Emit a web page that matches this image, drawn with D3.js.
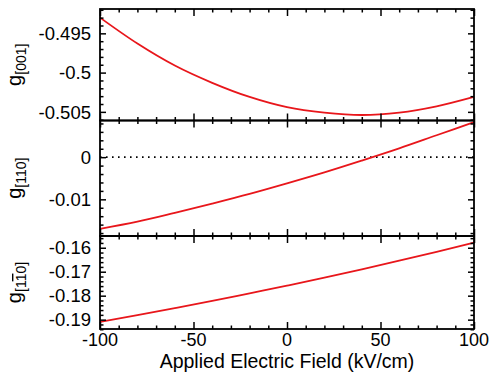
<!DOCTYPE html>
<html>
<head>
<meta charset="utf-8">
<script src="https://cdn.jsdelivr.net/npm/d3@7"></script>
<style>
  html, body { margin: 0; padding: 0; background: #fff; }
  svg { display: block; font-family: "Liberation Sans", Arial, Helvetica, sans-serif; }
</style>
</head>
<body>
<svg id="chart" width="495" height="377"></svg>
<script>
// ---- data ----
const fieldValues = [-100, -80, -60, -40, -20, 0, 20, 40, 60, 80, 100];
const g001 = [-0.4930, -0.4963, -0.4991, -0.5013, -0.5031, -0.5044, -0.5051, -0.5054, -0.5051, -0.5043, -0.5031];
const g110 = [-0.0170, -0.0153, -0.0132, -0.0110, -0.0087, -0.0062, -0.0036, -0.0008, 0.0021, 0.0052, 0.0083];
const g1m10 = [-0.1909, -0.1881, -0.1852, -0.1822, -0.1790, -0.1758, -0.1725, -0.1690, -0.1654, -0.1617, -0.1579];

const xTicks = [-100, -50, 0, 50, 100];
const xTickLabels = ["-100", "-50", "0", "50", "100"];
const xMinorTicks = [-90, -80, -70, -60, -40, -30, -20, -10, 10, 20, 30, 40, 60, 70, 80, 90];

const p1Ticks = [-0.495, -0.5, -0.505];
const p1TickLabels = ["-0.495", "-0.5", "-0.505"];
const p2Ticks = [0, -0.01];
const p2TickLabels = ["0", "-0.01"];
const p3Ticks = [-0.16, -0.17, -0.18, -0.19];
const p3TickLabels = ["-0.16", "-0.17", "-0.18", "-0.19"];

const p1Minor = [-0.506, -0.504, -0.503, -0.502, -0.501, -0.499, -0.498, -0.497, -0.496, -0.494, -0.493, -0.492];
const p2Minor = [-0.018, -0.016, -0.014, -0.012, -0.008, -0.006, -0.004, -0.002, 0.002, 0.004, 0.006, 0.008];
const p3Minor = [-0.194, -0.192, -0.188, -0.186, -0.184, -0.182, -0.178, -0.176, -0.174, -0.172, -0.168, -0.166, -0.164, -0.162, -0.158, -0.156];

const xLabel = "Applied Electric Field (kV/cm)";

// ---- layout ----
const svg = d3.select("#chart");
const left = 100, right = 474;
const x = d3.scaleLinear().domain([-100, 100]).range([left, right]);

const panels = [
  { top: 9,   bottom: 120.5, domain: [-0.5061, -0.4919], values: g001, ticks: p1Ticks, labels: p1TickLabels, minor: p1Minor, sub: ["[001]"] },
  { top: 120.5, bottom: 236, domain: [-0.0187, 0.0087], values: g110, ticks: p2Ticks, labels: p2TickLabels, minor: p2Minor, sub: ["[110]"], zero: true },
  { top: 236, bottom: 329, domain: [-0.1939, -0.1551], values: g1m10, ticks: p3Ticks, labels: p3TickLabels, minor: p3Minor, sub: ["[1", "1", "0]"], bar: true }
];

const red = "#e8161b";
const majorLen = 7, minorLen = 3.5;

panels.forEach((p, i) => {
  const y = d3.scaleLinear().domain(p.domain).range([p.bottom, p.top]);
  const g = svg.append("g");

  if (p.zero) {
    g.append("line")
      .attr("x1", left).attr("x2", right)
      .attr("y1", y(0)).attr("y2", y(0))
      .attr("stroke", "#000").attr("stroke-width", 1.6)
      .attr("stroke-dasharray", "1.6,4.4");
  }

  const line = d3.line()
    .x((d, k) => x(fieldValues[k]))
    .y(d => y(d))
    .curve(d3.curveMonotoneX);
  g.append("path")
    .datum(p.values)
    .attr("d", line)
    .attr("fill", "none")
    .attr("stroke", red)
    .attr("stroke-width", 1.8);

  const styleAxis = sel => {
    sel.select(".domain").remove();
    sel.selectAll("line").attr("stroke", "#000").attr("stroke-width", 1.5);
    sel.selectAll("text").remove();
  };
  g.append("g").attr("transform", `translate(${left},0)`)
    .call(d3.axisLeft(y).tickValues(p.ticks).tickSize(-6)).call(styleAxis);
  g.append("g").attr("transform", `translate(${left},0)`)
    .call(d3.axisLeft(y).tickValues(p.minor).tickSize(-3.5)).call(styleAxis);
  g.append("g").attr("transform", `translate(${right},0)`)
    .call(d3.axisRight(y).tickValues(p.ticks).tickSize(-6)).call(styleAxis);
  g.append("g").attr("transform", `translate(${right},0)`)
    .call(d3.axisRight(y).tickValues(p.minor).tickSize(-3.5)).call(styleAxis);
  g.append("g").attr("transform", `translate(0,${p.top})`)
    .call(d3.axisTop(x).tickValues(xTicks).tickSize(-majorLen)).call(styleAxis);
  g.append("g").attr("transform", `translate(0,${p.top})`)
    .call(d3.axisTop(x).tickValues(xMinorTicks).tickSize(-minorLen)).call(styleAxis);
  g.append("g").attr("transform", `translate(0,${p.bottom})`)
    .call(d3.axisBottom(x).tickValues(xTicks).tickSize(-majorLen)).call(styleAxis);
  g.append("g").attr("transform", `translate(0,${p.bottom})`)
    .call(d3.axisBottom(x).tickValues(xMinorTicks).tickSize(-minorLen)).call(styleAxis);

  g.selectAll(".ylab").data(p.ticks).enter().append("text")
    .attr("x", left - 9)
    .attr("y", d => y(d))
    .attr("dy", "0.36em")
    .attr("text-anchor", "end")
    .attr("font-size", 18.5)
    .text((d, k) => p.labels[k]);

  g.append("rect")
    .attr("x", left).attr("y", p.top)
    .attr("width", right - left).attr("height", p.bottom - p.top)
    .attr("fill", "none").attr("stroke", "#000").attr("stroke-width", 1.8);

  const cy = (p.top + p.bottom) / 2;
  const t = g.append("text")
    .attr("transform", `translate(21,${cy}) rotate(-90)`)
    .attr("text-anchor", "middle")
    .attr("font-size", 20);
  t.append("tspan").text("g");
  if (p.bar) {
    t.append("tspan").attr("font-size", 14).attr("dy", 5).text(p.sub[0]);
    t.append("tspan").attr("font-size", 14).style("text-decoration", "overline").text(p.sub[1]);
    t.append("tspan").attr("font-size", 14).text(p.sub[2]);
  } else {
    t.append("tspan").attr("font-size", 14).attr("dy", 5).text(p.sub[0]);
  }
});

svg.selectAll(".xlab").data(xTicks).enter().append("text")
  .attr("x", d => x(d))
  .attr("y", 346)
  .attr("text-anchor", "middle")
  .attr("font-size", 18)
  .text((d, k) => xTickLabels[k]);

svg.append("text")
  .attr("x", (left + right) / 2)
  .attr("y", 368)
  .attr("text-anchor", "middle")
  .attr("font-size", 19.5)
  .text(xLabel);
</script>
</body>
</html>
